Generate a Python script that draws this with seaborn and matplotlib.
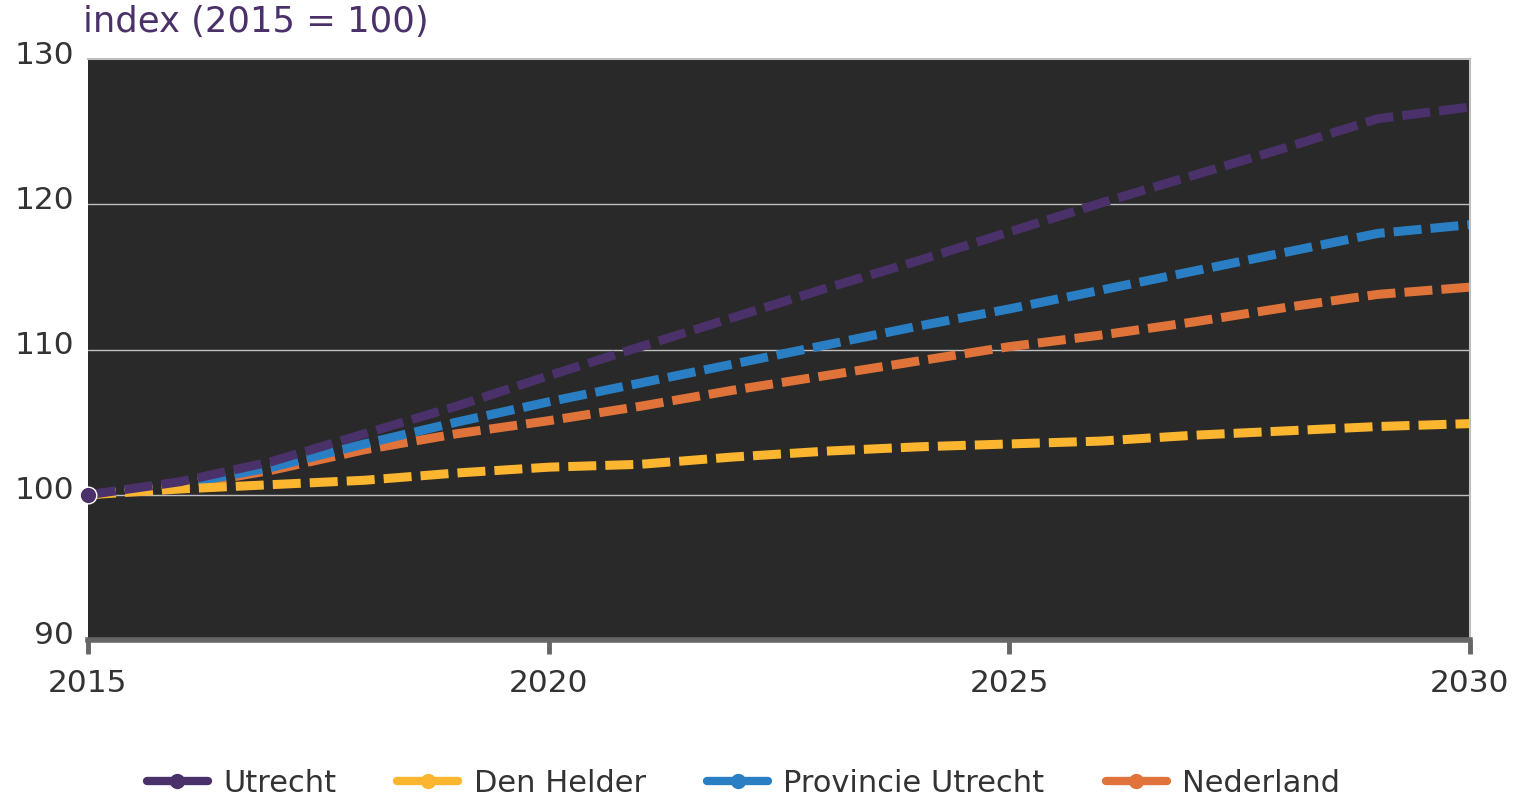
"""Population index forecast, Utrecht vs Den Helder vs province vs NL."""

import matplotlib.pyplot as plt
import matplotlib.transforms as mtransforms
import pandas as pd
import seaborn as sns
from matplotlib.lines import Line2D

years = list(range(2015, 2031))

utrecht = [100.0, 100.9, 102.3, 104.2, 106.1, 108.2, 110.2, 112.2, 114.2,
           116.1, 118.1, 120.1, 122.0, 123.9, 125.9, 126.7]
den_helder = [100.0, 100.4, 100.7, 101.0, 101.5, 101.9, 102.1, 102.6, 103.0,
              103.3, 103.5, 103.7, 104.1, 104.4, 104.7, 104.9]
prov_utrecht = [100.0, 100.7, 101.9, 103.5, 105.0, 106.4, 107.7, 109.0, 110.3,
                111.6, 112.8, 114.1, 115.4, 116.7, 118.0, 118.6]
nederland = [100.0, 100.6, 101.7, 103.1, 104.2, 105.1, 106.1, 107.2, 108.2,
             109.2, 110.2, 111.0, 111.9, 112.9, 113.8, 114.3]

series_names = ["Utrecht", "Den Helder", "Provincie Utrecht", "Nederland"]
colors = ["#4b3169", "#fbb52f", "#2a7fc4", "#e0733a"]

x_ticks = [2015, 2020, 2025, 2030]
y_ticks = [90, 100, 110, 120, 130]


def main():
    df = pd.DataFrame(
        {
            "year": years * 4,
            "value": utrecht + den_helder + prov_utrecht + nederland,
            "region": sum([[n] * len(years) for n in series_names], []),
        }
    )

    sns.set_style("white")
    plt.rcParams["font.family"] = ["DejaVu Sans"]
    text_color = "#333333"

    fig = plt.figure(figsize=(15.17, 7.99), dpi=100)
    ax = fig.add_axes([0.058, 0.199, 0.911, 0.727])
    ax.set_facecolor("#282928")

    palette = dict(zip(series_names, colors))
    # draw in reverse so Utrecht sits on top
    for name in reversed(series_names):
        sns.lineplot(
            data=df[df["region"] == name],
            x="year",
            y="value",
            color=palette[name],
            linewidth=6.5,
            ax=ax,
            legend=False,
        )
    for line in ax.get_lines():
        line.set_linestyle((0, (3.1, 1.0)))

    ax.plot(years[0], utrecht[0], "o", color=colors[0], markersize=12,
            markeredgecolor="white", markeredgewidth=1, zorder=5, clip_on=False)

    ax.set_xlim(2015, 2030)
    ax.set_ylim(90, 130)
    ax.set_xticks(x_ticks)
    ax.set_yticks(y_ticks)
    ax.set_xlabel("")
    ax.set_ylabel("")

    for y in [100, 110, 120]:
        ax.axhline(y, color="#bfbfbf", linewidth=1, zorder=1)

    for side in ["top", "right"]:
        ax.spines[side].set_color("#bfbfbf")
        ax.spines[side].set_linewidth(1.5)
    ax.spines["left"].set_visible(False)
    ax.spines["bottom"].set_color("#666666")
    ax.spines["bottom"].set_linewidth(4)

    ax.tick_params(axis="x", length=10, width=3.5, color="#666666",
                   labelsize=22.5, labelcolor=text_color, pad=11, bottom=True)
    ax.tick_params(axis="y", length=0, labelsize=22.5, labelcolor=text_color, pad=10)
    offset = mtransforms.ScaledTranslation(0, 7 / 100, fig.dpi_scale_trans)
    for lab in ax.get_yticklabels():
        lab.set_transform(lab.get_transform() + offset)

    fig.text(0.055, 0.972, "index (2015 = 100)", color="#4b3169",
             fontsize=25.5, ha="left", va="center")

    handles = [
        Line2D([0], [0], color=c, linewidth=6, marker="o", markersize=10,
               markeredgecolor=c)
        for c in colors
    ]
    leg = fig.legend(
        handles,
        series_names,
        loc="center",
        bbox_to_anchor=(0.49, 0.02),
        ncol=4,
        frameon=False,
        fontsize=22,
        handlelength=2.0,
        columnspacing=2.0,
        handletextpad=0.5,
    )
    for t in leg.get_texts():
        t.set_color(text_color)

    fig.savefig("out.png", dpi=100)
    plt.close(fig)


if __name__ == "__main__":
    main()
